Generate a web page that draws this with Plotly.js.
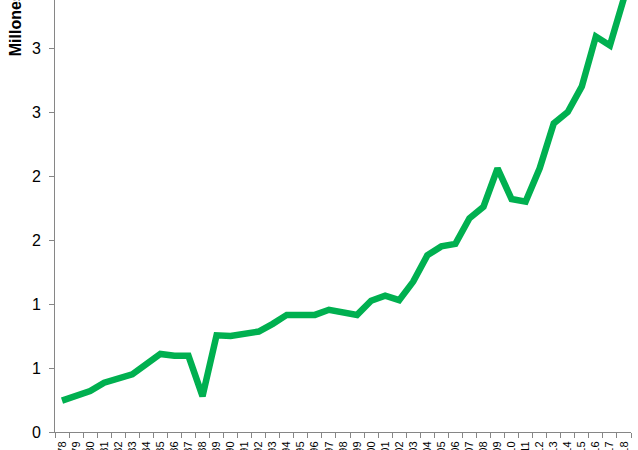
<!DOCTYPE html>
<html>
<head>
<meta charset="utf-8">
<script src="https://cdn.plot.ly/plotly-3.0.1.min.js"></script>
<style>html,body{margin:0;padding:0;background:#fff;}#chart{width:638px;height:450px;}</style>
</head>
<body>
<div id="chart"></div>
<script>
const years = ["1978","1979","1980","1981","1982","1983","1984","1985","1986","1987","1988","1989","1990","1991","1992","1993","1994","1995","1996","1997","1998","1999","2000","2001","2002","2003","2004","2005","2006","2007","2008","2009","2010","2011","2012","2013","2014","2015","2016","2017","2018"];
const values = [0.245,0.28,0.32,0.385,0.42,0.45,0.53,0.61,0.595,0.595,0.28,0.755,0.75,0.765,0.785,0.845,0.915,0.915,0.915,0.955,0.93,0.915,1.025,1.065,1.03,1.175,1.38,1.45,1.47,1.67,1.76,2.06,1.82,1.80,2.06,2.41,2.50,2.70,3.09,3.02,3.39];
const yTickVals = [0,0.5,1,1.5,2,2.5,3];
const yTickText = ["0","1","1","2","2","3","3"];
const yTitle = "Millones";

const font = "Arial, 'Liberation Sans', sans-serif";
Plotly.newPlot("chart", [{
  x: years, y: values, type: "scatter", mode: "lines",
  line: {color: "#00B050", width: 6.5},
  cliponaxis: true, hoverinfo: "skip"
}], {
  width: 638, height: 450,
  margin: {l: 55, r: 7, t: 0, b: 18, pad: 0},
  paper_bgcolor: "#fff", plot_bgcolor: "#fff",
  showlegend: false,
  font: {family: font, color: "#000"},
  xaxis: {
    type: "category", range: [-0.5, years.length - 0.5], tickson: "boundaries",
    ticks: "outside", ticklen: 5,
    tickcolor: "#868686", showline: true, linecolor: "#868686", linewidth: 1,
    showgrid: false, zeroline: false, tickangle: -90, ticklabelstandoff: 4,
    tickfont: {size: 11, family: font, color: "#000"}, automargin: false
  },
  yaxis: {
    range: [0, 3.375], tickvals: yTickVals, ticktext: yTickText,
    ticks: "outside", ticklen: 5, tickcolor: "#868686",
    showline: true, linecolor: "#868686", linewidth: 1,
    showgrid: false, zeroline: false, ticklabelstandoff: 5,
    tickfont: {size: 16, family: font, color: "#000"}, automargin: false
  },
  annotations: [{
    text: "<b>" + yTitle + "</b>", textangle: -90, xref: "paper", yref: "paper",
    x: -0.069, y: (450 - 18 - 58) / 432, xanchor: "center", yanchor: "bottom",
    showarrow: false, font: {size: 16, family: font, color: "#000"}
  }]
}, {displayModeBar: false, staticPlot: true});
</script>
</body>
</html>
